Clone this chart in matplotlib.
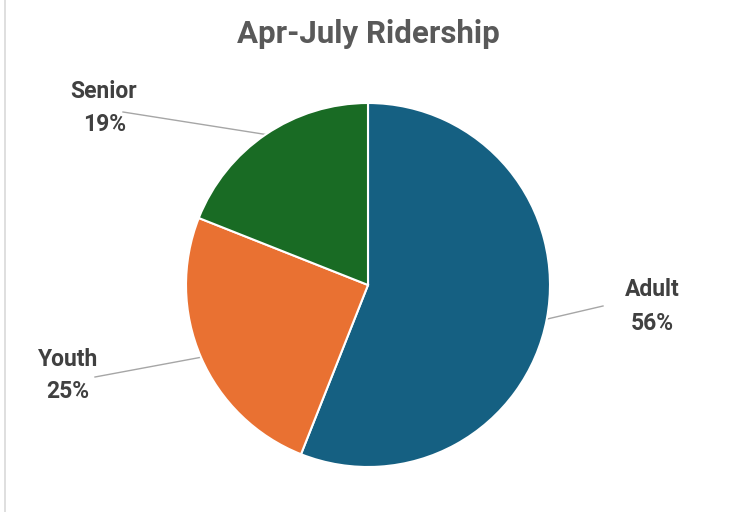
import matplotlib
matplotlib.use("Agg")
import matplotlib.pyplot as plt
from matplotlib.lines import Line2D
import numpy as np

categories = ["Adult", "Youth", "Senior"]
values = [56, 25, 19]
colors = ["#156082", "#E97132", "#196B24"]
title = "Apr-July Ridership"

FONT = ["Roboto", "DejaVu Sans"]

W, H = 730, 512
fig = plt.figure(figsize=(W / 100, H / 100), dpi=100)
ax = fig.add_axes([0, 0, 1, 1])
cx, cy, R = 368, 285, 182  # pixel layout of the pie

wedges, _ = ax.pie(values, colors=colors, startangle=90, counterclock=False,
                   radius=1, wedgeprops=dict(edgecolor="white", linewidth=1.5))
ax.set_xlim(-cx / R, (W - cx) / R)
ax.set_ylim(-(H - cy) / R, cy / R)
ax.set_aspect("auto")
ax.axis("off")


def px(x, y):
    return (x - cx) / R, (cy - y) / R

# label layout (pixel positions): line end, name center, percent center
layout = {
    "Adult": ((603, 306), (652, 290), (652, 323)),
    "Youth": ((95, 377), (68, 359), (68, 392)),
    "Senior": ((123, 112), (104, 92), (105, 125)),
}

for w, cat, v in zip(wedges, categories, values):
    mid = np.deg2rad((w.theta1 + w.theta2) / 2)
    sx, sy = np.cos(mid), np.sin(mid)
    (ex, ey), (nx, ny), (qx, qy) = layout[cat]
    ex, ey = px(ex, ey)
    ax.plot([sx, ex], [sy, ey], color="#A6A6A6", lw=1.0, zorder=0)
    ax.text(*px(nx, ny), cat, ha="center", va="center", family=FONT,
            fontsize=16.5, fontweight="bold", color="#404040")
    ax.text(*px(qx, qy), f"{v}%", ha="center", va="center", family=FONT,
            fontsize=16.5, fontweight="bold", color="#404040")

fig.text(368 / W, 1 - 34 / H, title, ha="center", va="center", family=FONT,
         fontsize=22.5, fontweight="bold", color="#595959")

fig.add_artist(Line2D([5 / W, 5 / W], [0, 1], color="#D9D9D9", lw=1.2))

fig.savefig("out.png", dpi=100, facecolor="white")
